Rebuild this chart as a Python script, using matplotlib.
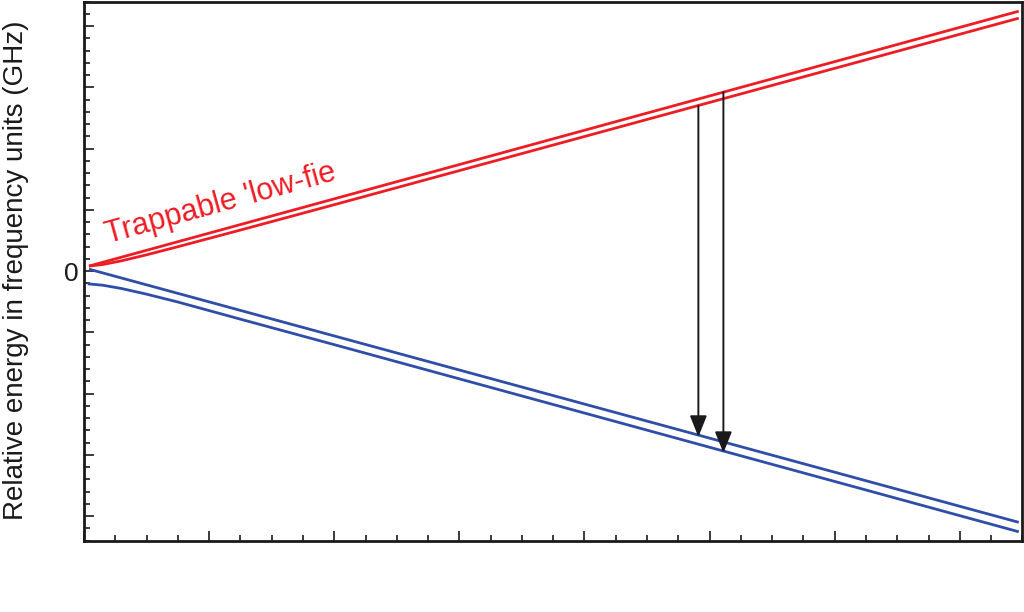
import numpy as np
import matplotlib.pyplot as plt
from matplotlib.ticker import MultipleLocator

plt.rcParams['font.family'] = ['Liberation Sans', 'DejaVu Sans']

# magnetic field (T) and level energies (GHz)
red_upper_b = [0.008, 1.494]
red_upper_e = [0.41, 21.21]
red_lower_b = [0.008, 0.03, 0.06, 0.1, 0.15, 0.25, 0.4, 1.494]
red_lower_e = [0.41, 0.54, 0.84, 1.33, 1.99, 3.35, 5.42, 20.64]
blue_upper_b = [0.008, 1.494]
blue_upper_e = [0.16, -20.50]
blue_lower_b = [0.006, 0.03, 0.06, 0.1, 0.15, 0.25, 0.4, 1.494]
blue_lower_e = [-1.04, -1.15, -1.42, -1.88, -2.52, -3.92, -6.00, -21.27]

# transitions (field, start energy, end energy)
arrow_b = [0.982, 1.022]
arrow_from = [13.48, 14.62]
arrow_to = [-13.53, -14.84]

red = '#ee1c24'
blue = '#2e4ea8'

fig = plt.figure(figsize=(10.24, 6.12), dpi=100)
ax = fig.add_axes([0.082, 0.1165, 0.9165, 0.881])

ax.plot(red_upper_b, red_upper_e, color=red, lw=2.0, solid_capstyle='butt')
ax.plot(red_lower_b, red_lower_e, color=red, lw=2.0, solid_capstyle='butt')
ax.plot(blue_upper_b, blue_upper_e, color=blue, lw=2.0, solid_capstyle='butt')
ax.plot(blue_lower_b, blue_lower_e, color=blue, lw=2.0, solid_capstyle='butt')

for b, e0, e1 in zip(arrow_b, arrow_from, arrow_to):
    ax.annotate('', xy=(b, e1), xytext=(b, e0),
                arrowprops=dict(arrowstyle='-|>,head_length=1.0,head_width=0.4',
                                mutation_scale=13, lw=1.4, color='#1a1a1a',
                                shrinkA=0, shrinkB=0))

ax.text(0.0384, 2.24, "Trappable 'low-fie", color=red, fontsize=22,
        rotation=15.5, rotation_mode='anchor', ha='left', va='baseline')

ax.set_xlim(0, 1.5)
ax.xaxis.set_major_locator(MultipleLocator(0.2))
ax.xaxis.set_minor_locator(MultipleLocator(0.05))
ax.set_xticklabels([])
yt = np.arange(-20, 21, 5)
ax.set_yticks(yt)
ax.set_yticklabels(['0' if v == 0 else '' for v in yt])
ax.yaxis.set_minor_locator(MultipleLocator(1))
ax.set_ylim(-22, 22)

ax.tick_params(which='both', direction='in', top=False, right=False,
               width=1.2, colors='#1a1a1a', pad=4)
ax.tick_params(axis='y', which='major', labelsize=19)
ax.tick_params(which='major', length=7.2)
ax.tick_params(which='minor', length=4.2)
for s in ax.spines.values():
    s.set_linewidth(2.0)
    s.set_color('#1a1a1a')

fig.text(0.0156, 0.5585, 'Relative energy in frequency units (GHz)',
         rotation=90, ha='center', va='center', fontsize=20, color='#1a1a1a')

fig.savefig('out.png', dpi=100)
